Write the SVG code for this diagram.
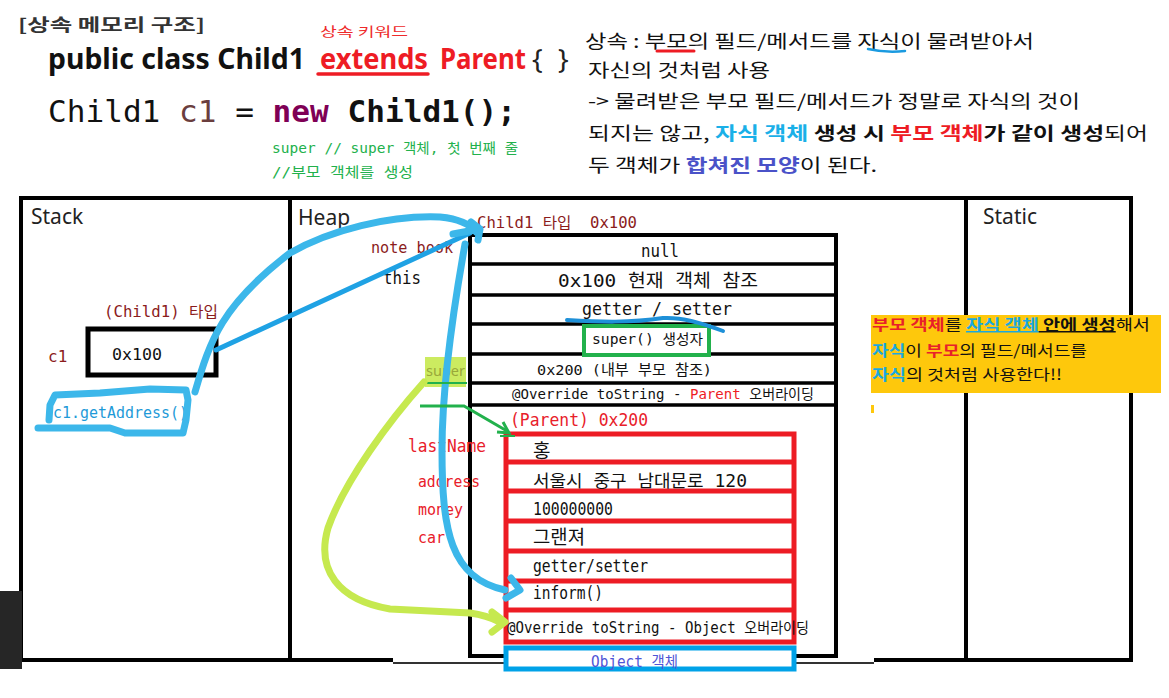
<svg xmlns="http://www.w3.org/2000/svg" width="1169" height="698" viewBox="0 0 1169 698">
<style>
.kr{font-family:"Noto Sans CJK KR","Noto Sans",sans-serif}
.mono{font-family:"DejaVu Sans Mono","Noto Sans CJK KR",monospace}
.sans{font-family:"Noto Sans","Liberation Sans",sans-serif}
.frame{stroke:#000;stroke-width:4;fill:none}
.row{stroke:#000;stroke-width:3.5}
.red{stroke:#ed1c24;stroke-width:5;fill:none}
.drk{fill:#8b1c1c}
.lbl{fill:#e8202a}
.hb{fill:none;stroke:#3cb7ea;stroke-width:7;stroke-linecap:round;stroke-linejoin:round}
.yg{fill:none;stroke:#c6e94f;stroke-width:7;stroke-linecap:round;stroke-linejoin:round}
</style>
<rect width="1169" height="698" fill="#fff"/>

<g id="title">
<text x="18" y="31" class="kr" font-size="17" font-weight="bold" fill="#333" textLength="187" lengthAdjust="spacingAndGlyphs">[상속 메모리 구조]</text>
</g>

<g id="code">
<text x="320" y="36" class="kr" font-size="13" fill="#ee2a2a" textLength="88" lengthAdjust="spacingAndGlyphs">상속 키워드</text>
<text x="48" y="69" class="sans" font-size="28" font-weight="bold" fill="#111" textLength="257" lengthAdjust="spacingAndGlyphs">public class Child1</text>
<text x="320" y="69" class="sans" font-size="28" font-weight="bold" fill="#ee1c24" textLength="108" lengthAdjust="spacingAndGlyphs">extends</text>
<path d="M318,74 L428,74" stroke="#ee1c24" stroke-width="3.5" stroke-linecap="round"/>
<text x="440" y="69" class="sans" font-size="28" font-weight="bold" fill="#ee1c24" textLength="86" lengthAdjust="spacingAndGlyphs">Parent</text>
<text x="532" y="69" class="sans" font-size="28" fill="#222">{</text>
<text x="558" y="69" class="sans" font-size="28" fill="#222">}</text>
<text x="48" y="122" class="mono" font-size="30" fill="#111" textLength="468" lengthAdjust="spacingAndGlyphs" xml:space="preserve">Child1 <tspan fill="#6a3e3e">c1</tspan> = <tspan font-weight="bold" fill="#7f0055">new</tspan> <tspan font-weight="bold">Child1();</tspan></text>
<text x="272" y="153" class="mono" font-size="13.5" fill="#22b14c" textLength="246" lengthAdjust="spacingAndGlyphs">super // super 객체, 첫 번째 줄</text>
<text x="272" y="177" class="mono" font-size="13.5" fill="#22b14c" textLength="141" lengthAdjust="spacingAndGlyphs">//부모 객체를 생성</text>
</g>

<g id="description" class="kr" font-size="18" fill="#111">
<text x="585" y="48" textLength="449" lengthAdjust="spacingAndGlyphs">상속 : 부모의 필드/메서드를 자식이 물려받아서</text>
<path d="M657,51 L694,51" stroke="#ee1c24" stroke-width="3" stroke-linecap="round"/>
<path d="M868,49 Q886,53 905,51" stroke="#1a9ae0" stroke-width="2.5" fill="none" stroke-linecap="round"/>
<text x="588" y="77" textLength="182" lengthAdjust="spacingAndGlyphs">자신의 것처럼 사용</text>
<text x="588" y="108" textLength="492" lengthAdjust="spacingAndGlyphs">-&gt; 물려받은 부모 필드/메서드가 정말로 자식의 것이</text>
<text x="588" y="140" textLength="560" lengthAdjust="spacingAndGlyphs">되지는 않고, <tspan fill="#1ab0e8" font-weight="bold">자식 객체</tspan><tspan font-weight="bold"> 생성 시 </tspan><tspan fill="#ee1c24" font-weight="bold">부모 객체</tspan><tspan font-weight="bold">가 같이 생성</tspan>되어</text>
<text x="588" y="172" textLength="289" lengthAdjust="spacingAndGlyphs">두 객체가 <tspan fill="#4a52c8" font-weight="bold">합쳐진 모양</tspan>이 된다.</text>
</g>

<g id="memory-frame">
<path class="frame" d="M19,198 L1133,198 M21,198 L21,662 M1131,198 L1131,662 M290,198 L290,662 M966,198 L966,662"/>
<path d="M19,660 L393,660 M874,660 L1133,660" stroke="#000" stroke-width="4"/>
<path d="M393,663 L874,663" stroke="#333" stroke-width="2"/>
<rect x="0" y="591" width="22" height="78" fill="#262626"/>
<text x="31" y="224" class="sans" font-size="21" fill="#222">Stack</text>
<text x="298" y="225" class="sans" font-size="21" fill="#222">Heap</text>
<text x="983" y="224" class="sans" font-size="21" fill="#222">Static</text>
</g>

<g id="stack-c1">
<text x="104" y="317" class="mono drk" font-size="15" textLength="114" lengthAdjust="spacingAndGlyphs">(Child1) 타입</text>
<rect x="88" y="329" width="128" height="46" fill="#fff" stroke="#000" stroke-width="5"/>
<text x="112" y="360" class="mono" font-size="16.5" fill="#111" textLength="50" lengthAdjust="spacingAndGlyphs">0x100</text>
<text x="48" y="362" class="mono drk" font-size="16">c1</text>
<text x="53" y="418" class="mono" font-size="15" fill="#1e9ad8" textLength="135" lengthAdjust="spacingAndGlyphs">c1.getAddress()</text>
</g>

<g id="child1-object">
<text x="477" y="228" class="mono drk" font-size="15" textLength="160" lengthAdjust="spacingAndGlyphs" xml:space="preserve">Child1 타입  0x100</text>
<text x="371" y="253" class="mono drk" font-size="15" textLength="82" lengthAdjust="spacingAndGlyphs">note book</text>
<text x="383" y="284" class="mono" font-size="18" fill="#111" textLength="38" lengthAdjust="spacingAndGlyphs">this</text>
<rect x="470" y="235" width="366" height="421" fill="none" stroke="#000" stroke-width="4"/>
<path class="row" d="M470,264 L836,264 M470,295 L836,295 M470,324 L836,324 M470,354 L836,354 M470,383 L836,383 M470,405 L836,405"/>
<text x="641" y="257" class="mono" font-size="18" fill="#111" textLength="38" lengthAdjust="spacingAndGlyphs">null</text>
<text x="558" y="287" class="mono" font-size="18" fill="#111" textLength="200" lengthAdjust="spacingAndGlyphs">0x100 현재 객체 참조</text>
<text x="582" y="315" class="mono" font-size="18" fill="#111" textLength="150" lengthAdjust="spacingAndGlyphs">getter / setter</text>
<rect x="584" y="326" width="125" height="29" fill="#fff" stroke="#22b14c" stroke-width="4"/>
<text x="592" y="344" class="mono" font-size="14" fill="#111" textLength="111" lengthAdjust="spacingAndGlyphs">super() 생성자</text>
<text x="537" y="375" class="mono" font-size="14.5" fill="#111" textLength="175" lengthAdjust="spacingAndGlyphs">0x200 (내부 부모 참조)</text>
<text x="512" y="399" class="mono" font-size="14" fill="#111" textLength="302" lengthAdjust="spacingAndGlyphs">@Override toString - <tspan fill="#ee1c24">Parent</tspan> 오버라이딩</text>
<rect x="425" y="357" width="41" height="30" fill="#c6e94f" opacity="0.9"/>
<text x="426" y="376" class="sans" font-size="14" fill="#9aa83a" textLength="39" lengthAdjust="spacingAndGlyphs">super</text>
</g>

<g id="parent-object">
<text x="510" y="426" class="mono lbl" font-size="18" textLength="138" lengthAdjust="spacingAndGlyphs">(Parent) 0x200</text>
<text x="408" y="452" class="mono lbl" font-size="18" textLength="78" lengthAdjust="spacingAndGlyphs">lastName</text>
<text x="418" y="487" class="mono lbl" font-size="15" textLength="62" lengthAdjust="spacingAndGlyphs">address</text>
<text x="418" y="515" class="mono lbl" font-size="15" textLength="45" lengthAdjust="spacingAndGlyphs">money</text>
<text x="418" y="543" class="mono lbl" font-size="15" textLength="27" lengthAdjust="spacingAndGlyphs">car</text>
<rect x="506" y="434" width="288" height="208" class="red"/>
<path class="red" d="M506,462 L794,462 M506,491 L794,491 M506,521 L794,521 M506,551 L794,551 M506,581 L794,581 M506,610 L794,610"/>
<text x="533" y="458" class="kr" font-size="19" fill="#111">홍</text>
<text x="533" y="487" class="mono" font-size="17" fill="#111" textLength="214" lengthAdjust="spacingAndGlyphs">서울시 중구 남대문로 120</text>
<text x="533" y="515" class="mono" font-size="17" fill="#111" textLength="80" lengthAdjust="spacingAndGlyphs">100000000</text>
<text x="533" y="544" class="kr" font-size="19" fill="#111" textLength="52" lengthAdjust="spacingAndGlyphs">그랜져</text>
<text x="533" y="572" class="mono" font-size="17" fill="#111" textLength="115" lengthAdjust="spacingAndGlyphs">getter/setter</text>
<text x="533" y="599" class="mono" font-size="17" fill="#111" textLength="70" lengthAdjust="spacingAndGlyphs">inform()</text>
<text x="507" y="633" class="mono" font-size="15" fill="#111" textLength="302" lengthAdjust="spacingAndGlyphs">@Override toString - Object 오버라이딩</text>
</g>

<g id="object-box">
<rect x="506" y="648" width="288" height="21" fill="#fff" stroke="#00a2e8" stroke-width="5"/>
<text x="591" y="667" class="mono" font-size="15" fill="#4f55d6" textLength="87" lengthAdjust="spacingAndGlyphs">Object 객체</text>
</g>

<g id="note">
<rect x="871" y="315" width="290" height="78" fill="#fec80c"/>
<rect x="871" y="405" width="3" height="8" fill="#fec80c"/>
<g class="kr" font-size="15" fill="#111">
<text x="872" y="330" textLength="278" lengthAdjust="spacingAndGlyphs"><tspan fill="#e8202a" font-weight="bold">부모 객체</tspan>를 <tspan fill="#1aa8e0" font-weight="bold" text-decoration="underline">자식 객체</tspan><tspan font-weight="bold" text-decoration="underline"> 안에 생성</tspan>해서</text>
<text x="872" y="356" textLength="215" lengthAdjust="spacingAndGlyphs"><tspan fill="#1aa8e0" font-weight="bold">자식</tspan>이 <tspan fill="#e8202a" font-weight="bold">부모</tspan>의 필드/메서드를</text>
<text x="872" y="380" textLength="190" lengthAdjust="spacingAndGlyphs"><tspan fill="#1aa8e0" font-weight="bold">자식</tspan>의 것처럼 사용한다!!</text>
</g>
</g>

<g id="connectors">
<path class="hb" d="M38,428 L110,428 L125,433 L183,433 L186,420 L188,400 L186,390 L150,389 L100,393 L55,395 L50,405 L49,420"/>
<path class="hb" d="M195,392 C210,340 222,305 290,253 C330,230 390,215 440,217 C460,219 470,224 476,232"/>
<path d="M216,350 L470,233" stroke="#1fa2e4" stroke-width="5" fill="none" stroke-linecap="round"/>
<path class="hb" d="M453,234 L480,229 M471,222 L480,229 L478,240"/>
<path class="hb" d="M465,244 C455,300 442,380 442,450 C442,530 450,578 505,590"/>
<path class="hb" stroke-width="6" d="M511,578 L520,590 L506,598"/>
<path d="M567,320 C600,322 630,323 663,318 C680,317 700,322 723,331" stroke="#1e90d8" stroke-width="4" fill="none" stroke-linecap="round"/>
<path d="M420,383 L467,383" stroke="#22b14c" stroke-width="2"/>
<path d="M420,406 L464,406 L507,431" stroke="#22b14c" stroke-width="3" fill="none"/>
<path d="M497,432 L509,433 L503,422" stroke="#22b14c" stroke-width="3" fill="none"/>
<path d="M500,436 L515,436" stroke="#22b14c" stroke-width="2"/>
<path class="yg" d="M424,382 C390,420 345,480 328,528 C316,570 338,600 390,609 L470,613 C485,615 494,619 500,622"/>
<path class="yg" d="M492,612 L505,622 L492,632"/>
</g>
</svg>
